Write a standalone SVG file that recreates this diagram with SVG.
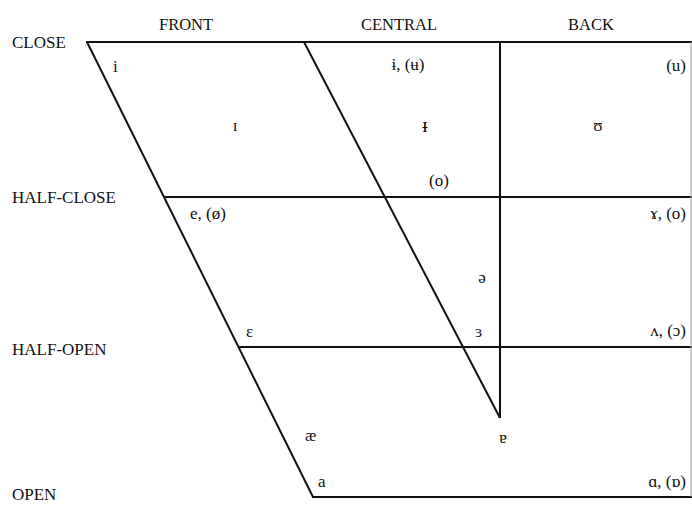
<svg xmlns="http://www.w3.org/2000/svg" width="692" height="505" viewBox="0 0 692 505">
<style>
text{font-family:"Liberation Serif","DejaVu Serif",serif;font-size:17px;fill:#111}
.h{font-size:16.5px}
.v{font-size:17px}
.e{text-anchor:end}
.m{text-anchor:middle}
.ln{stroke:#111;stroke-width:2;fill:none}
</style>
<rect width="692" height="505" fill="#fff"/>
<g id="grid">
<line class="ln" x1="86" y1="42" x2="692" y2="42"/>
<line class="ln" x1="87" y1="42" x2="313" y2="497"/>
<line class="ln" x1="164" y1="197" x2="692" y2="197"/>
<line class="ln" x1="238" y1="347" x2="692" y2="347"/>
<line class="ln" x1="312" y1="497" x2="692" y2="497"/>
<line class="ln" x1="304" y1="42" x2="500" y2="418"/>
<line class="ln" x1="500" y1="41" x2="500" y2="418"/>
<line x1="691" y1="42" x2="691" y2="497" stroke="#999" stroke-width="1"/>
</g>
<g id="headings">
<text class="h m" x="186" y="30">FRONT</text>
<text class="h m" x="399" y="30">CENTRAL</text>
<text class="h m" x="591" y="30">BACK</text>
<text x="12" y="48">CLOSE</text>
<text x="12" y="203">HALF-CLOSE</text>
<text x="12" y="355">HALF-OPEN</text>
<text x="12" y="500">OPEN</text>
</g>
<g id="vowels">
<text class="v" x="113" y="72">i</text>
<text class="v m" x="408" y="70">ɨ, (ʉ)</text>
<text class="v e" x="686" y="71">(u)</text>
<text class="v m" x="235" y="131">ɪ</text>
<text class="v m" x="425" y="132" style="font-size:21px">ᵻ</text>
<text class="v m" x="598" y="131">ʊ</text>
<text class="v m" x="439" y="186">(o)</text>
<text class="v" x="190" y="219">e, (ø)</text>
<text class="v e" x="686" y="219">ɤ, (o)</text>
<text class="v m" x="482" y="283">ə</text>
<text class="v" x="246" y="337">ɛ</text>
<text class="v" x="475" y="337">ɜ</text>
<text class="v e" x="686" y="336">ʌ, (ɔ)</text>
<text class="v" x="305" y="441">æ</text>
<text class="v m" x="503" y="443">ɐ</text>
<text class="v" x="318" y="487">a</text>
<text class="v e" x="686" y="487">ɑ, (ɒ)</text>
</g>
</svg>
